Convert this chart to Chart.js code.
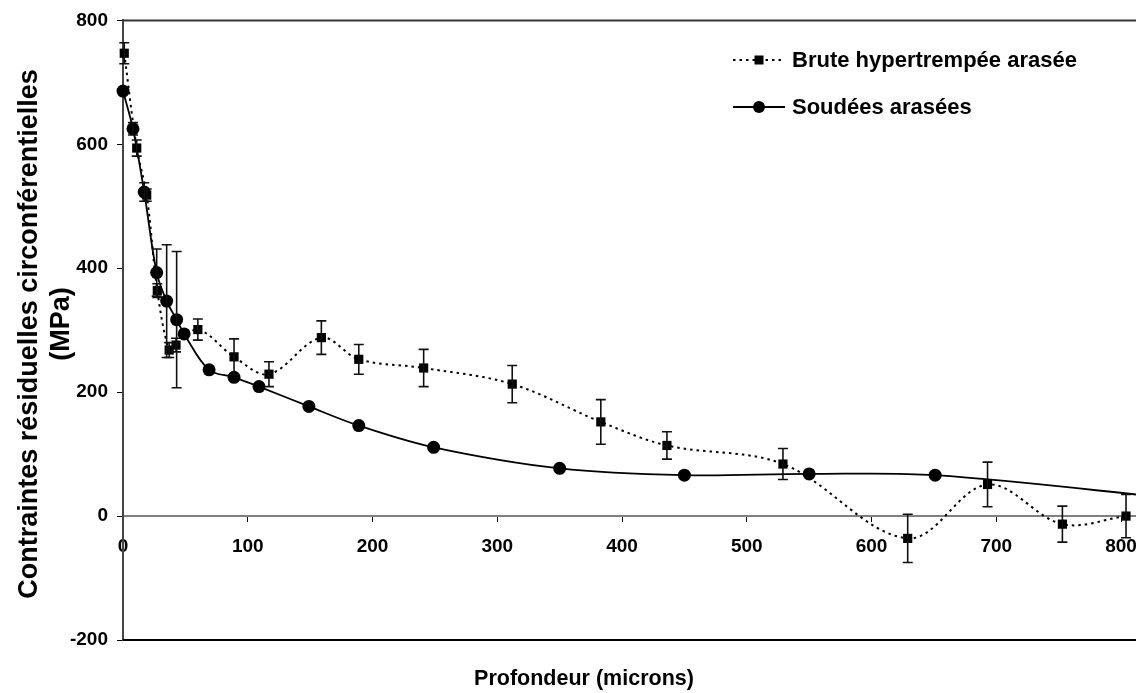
<!DOCTYPE html>
<html>
<head>
<meta charset="utf-8">
<script src="https://cdn.jsdelivr.net/npm/chart.js@4/dist/chart.umd.min.js"></script>
<style>
  html, body { margin: 0; padding: 0; background: #fff; }
  canvas { display: block; }
</style>
</head>
<body>
<canvas id="c" width="1136" height="693"></canvas>
<script>
// Depth (microns), stress (MPa) and measurement spread for each series
const depthBrute  = [1, 11, 19, 27.5, 37, 42.5, 60, 89, 117, 159, 189, 241, 312, 383, 436, 529, 629, 693, 753, 804];
const stressBrute = [747, 594, 518, 364, 268, 276, 301, 257, 229, 288, 253, 239, 213, 152, 114, 84, -36, 51, -13, 0];
const errBrute    = [17, 13, 10, 11, 12, 11, 17, 29, 20, 27, 24, 30, 30, 36, 22, 25, 39, 36, 29, 35];

const depthSoudees  = [0, 8, 17, 27, 35, 43, 49, 69, 89, 109, 149, 189, 249, 350, 450, 550, 651, 850];
const stressSoudees = [686, 625, 523, 393, 347, 317, 294, 236, 224, 209, 177, 146, 111, 77, 66, 68, 66, 27];
const errSoudees    = [0, 10, 15, 38, 91, 110, 0, 0, 0, 0, 0, 0, 0, 0, 0, 0, 0, 0];

// Axis tick values
const xTickValues = [0, 100, 200, 300, 400, 500, 600, 700, 800];
const yTickValues = [-200, 0, 200, 400, 600, 800];

const labelBrute = 'Brute hypertrempée arasée';
const labelSoudees = 'Soudées arasées';
const xTitle = 'Profondeur (microns)';
const yTitle = ['Contraintes résiduelles circonférentielles', '(MPa)'];

const FONT = "'Liberation Sans', Arial, Helvetica, sans-serif";

function pts(xs, ys) { return xs.map((x, i) => ({ x: x, y: ys[i] })); }

// Vertical error bars with caps, placed through the chart's scales
const errorBars = {
  id: 'errorBars',
  afterDatasetsDraw(chart) {
    const ctx = chart.ctx;
    const xs = chart.scales.x, ys = chart.scales.y;
    chart.data.datasets.forEach(ds => {
      const errs = ds.errors || [];
      ctx.save();
      ctx.strokeStyle = '#111';
      ctx.lineWidth = 1.6;
      ds.data.forEach((p, i) => {
        const e = errs[i];
        if (!e) return;
        const px = xs.getPixelForValue(p.x);
        const top = ys.getPixelForValue(p.y + e);
        const bot = ys.getPixelForValue(p.y - e);
        ctx.beginPath();
        ctx.moveTo(px, top); ctx.lineTo(px, bot);
        ctx.moveTo(px - 5, top); ctx.lineTo(px + 5, top);
        ctx.moveTo(px - 5, bot); ctx.lineTo(px + 5, bot);
        ctx.stroke();
      });
      ctx.restore();
    });
  }
};

// Plot frame lines, axis titles and legend
const decorations = {
  id: 'decorations',
  beforeDatasetsDraw(chart) {
    const ctx = chart.ctx;
    const a = chart.chartArea;
    ctx.save();
    ctx.strokeStyle = '#333';
    ctx.lineWidth = 2;
    ctx.beginPath();
    ctx.moveTo(a.left, a.top); ctx.lineTo(chart.width, a.top);
    ctx.stroke();
    ctx.strokeStyle = '#000';
    ctx.beginPath();
    ctx.moveTo(a.left, a.bottom); ctx.lineTo(chart.width, a.bottom);
    ctx.stroke();
    ctx.restore();
  },
  afterDraw(chart) {
    const ctx = chart.ctx;
    ctx.save();
    ctx.fillStyle = '#000';
    ctx.textAlign = 'center';
    ctx.textBaseline = 'middle';
    ctx.font = 'bold 21.5px ' + FONT;
    ctx.fillText(xTitle, 584, 679);

    ctx.font = 'bold 27px ' + FONT;
    ctx.translate(30, 334);
    ctx.rotate(-Math.PI / 2);
    ctx.fillText(yTitle[0], 0, 0);
    ctx.fillText(yTitle[1], 10, 32);
    ctx.restore();

    // legend
    const ds = chart.data.datasets;
    const rows = [{ d: ds[0], y: 60 }, { d: ds[1], y: 107 }];
    rows.forEach(r => {
      ctx.save();
      ctx.strokeStyle = r.d.borderColor;
      ctx.lineWidth = r.d.borderWidth;
      ctx.setLineDash(r.d.borderDash || []);
      ctx.beginPath();
      ctx.moveTo(733, r.y); ctx.lineTo(785, r.y);
      ctx.stroke();
      ctx.setLineDash([]);
      ctx.fillStyle = '#000';
      if (r.d.pointStyle === 'rect') {
        ctx.fillRect(759 - 4.5, r.y - 4.5, 9, 9);
      } else {
        ctx.beginPath();
        ctx.arc(759, r.y, 6, 0, Math.PI * 2);
        ctx.fill();
      }
      ctx.font = 'bold 22px ' + FONT;
      ctx.textAlign = 'left';
      ctx.textBaseline = 'middle';
      ctx.fillText(r.d.label, 792, r.y + 1);
      ctx.restore();
    });
  }
};

new Chart(document.getElementById('c'), {
  type: 'line',
  data: {
    datasets: [
      {
        label: labelBrute,
        data: pts(depthBrute, stressBrute),
        errors: errBrute,
        borderColor: '#000',
        backgroundColor: '#000',
        borderWidth: 2,
        borderDash: [2.5, 4],
        tension: 0.35,
        pointStyle: 'rect',
        pointRadius: 6.5,
        pointBorderWidth: 0,
        clip: false
      },
      {
        label: labelSoudees,
        data: pts(depthSoudees, stressSoudees),
        errors: errSoudees,
        borderColor: '#000',
        backgroundColor: '#000',
        borderWidth: 1.8,
        tension: 0.35,
        pointStyle: 'circle',
        pointRadius: 6.5,
        pointBorderWidth: 0,
        clip: false
      }
    ]
  },
  options: {
    responsive: false,
    animation: false,
    devicePixelRatio: 1,
    layout: { autoPadding: false, padding: { left: 0, right: 0, top: 17, bottom: 53 } },
    plugins: { legend: { display: false }, tooltip: { enabled: false } },
    scales: {
      x: {
        type: 'linear',
        min: 0,
        max: 812,
        position: { y: 0 },
        afterBuildTicks(s) { s.ticks = xTickValues.map(v => ({ value: v })); },
        afterFit(s) { s.paddingLeft = 0; s.paddingRight = 0; s.paddingTop = 0; s.paddingBottom = 0; },
        ticks: {
          autoSkip: false,
          maxRotation: 0,
          padding: 14,
          color: '#000',
          font: { family: FONT, size: 19, weight: 'bold' }
        },
        grid: { drawOnChartArea: false, drawTicks: true, tickLength: 5, color: '#000', lineWidth: 1 },
        border: { display: true, color: '#808080', width: 2 }
      },
      y: {
        type: 'linear',
        min: -200,
        max: 800,
        position: 'left',
        afterBuildTicks(s) { s.ticks = yTickValues.map(v => ({ value: v })); },
        afterFit(s) { s.width = 123; },
        ticks: {
          padding: 9,
          color: '#000',
          font: { family: FONT, size: 19, weight: 'bold' }
        },
        grid: { drawOnChartArea: false, drawTicks: true, tickLength: 6, color: '#000', lineWidth: 1 },
        border: { display: true, color: '#444', width: 2 }
      }
    }
  },
  plugins: [decorations, errorBars]
});
</script>
</body>
</html>
